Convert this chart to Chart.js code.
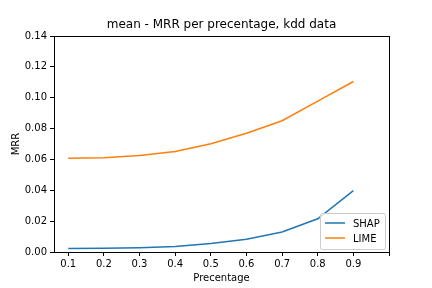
<!DOCTYPE html>
<html>
<head>
<meta charset="utf-8">
<script src="https://cdn.jsdelivr.net/npm/chart.js@4"></script>
<style>
  html, body { margin: 0; padding: 0; background: #fff; }
  #wrap { width: 432px; height: 288px; }
</style>
</head>
<body>
<div id="wrap"><canvas id="mrrChart" width="432" height="288"></canvas></div>
<script>
const percentages = [0.1, 0.2, 0.3, 0.4, 0.5, 0.6, 0.7, 0.8, 0.9];
const shapValues = [0.0022, 0.0024, 0.0028, 0.0036, 0.0055, 0.0083, 0.0130, 0.0215, 0.0398];
const limeValues = [0.0607, 0.0611, 0.0625, 0.0652, 0.0702, 0.0770, 0.0851, 0.0978, 0.1105];
const xTicks = [0.1, 0.2, 0.3, 0.4, 0.5, 0.6, 0.7, 0.8, 0.9, 1.0];
const xTickLabels = ['0.1', '0.2', '0.3', '0.4', '0.5', '0.6', '0.7', '0.8', '0.9', ''];
const seriesNames = ['SHAP', 'LIME'];
const seriesColors = ['#1f77b4', '#ff7f0e'];

const FONT = 'DejaVu Sans';

function toPoints(vals) {
    return percentages.map((p, i) => ({ x: p, y: vals[i] }));
}

// frame, title and in-plot legend, drawn the way matplotlib does it
const extrasPlugin = {
    id: 'extras',
    afterDraw(chart) {
        const ctx = chart.ctx;
        const a = chart.chartArea;
        ctx.save();
        ctx.strokeStyle = '#000';
        ctx.lineWidth = 1;
        ctx.strokeRect(Math.round(a.left) + 0.5, Math.round(a.top) + 0.5,
            Math.round(a.right - a.left), Math.round(a.bottom - a.top));

        ctx.fillStyle = '#000';
        ctx.font = '12px "' + FONT + '"';
        ctx.textAlign = 'center';
        ctx.textBaseline = 'bottom';
        ctx.fillText('mean - MRR per precentage, kdd data', (a.left + a.right) / 2, a.top - 5);

        // legend box, lower right
        const bw = 65, bh = 36;
        const bx = a.right - 4 - bw, by = a.bottom - 3 - bh;
        ctx.fillStyle = 'rgba(255,255,255,0.8)';
        ctx.strokeStyle = '#cccccc';
        ctx.beginPath();
        ctx.roundRect(bx + 0.5, by + 0.5, bw, bh, 2);
        ctx.fill();
        ctx.stroke();
        ctx.font = '10px "' + FONT + '"';
        ctx.textAlign = 'left';
        ctx.textBaseline = 'middle';
        seriesNames.forEach((name, i) => {
            const ly = by + 10 + i * 15;
            ctx.strokeStyle = seriesColors[i];
            ctx.lineWidth = 1.5;
            ctx.beginPath();
            ctx.moveTo(bx + 5, ly);
            ctx.lineTo(bx + 25, ly);
            ctx.stroke();
            ctx.fillStyle = '#000';
            ctx.fillText(name, bx + 33, ly + 1);
        });
        ctx.restore();
    }
};

new Chart(document.getElementById('mrrChart'), {
    type: 'line',
    data: {
        datasets: [
            {
                label: seriesNames[0],
                data: toPoints(shapValues),
                borderColor: seriesColors[0],
                backgroundColor: seriesColors[0],
                borderWidth: 1.5,
                pointRadius: 0,
                tension: 0,
                fill: false
            },
            {
                label: seriesNames[1],
                data: toPoints(limeValues),
                borderColor: seriesColors[1],
                backgroundColor: seriesColors[1],
                borderWidth: 1.5,
                pointRadius: 0,
                tension: 0,
                fill: false
            }
        ]
    },
    options: {
        responsive: false,
        animation: false,
        layout: { padding: { left: 0, right: 43, top: 36, bottom: 0 } },
        plugins: {
            legend: { display: false },
            title: { display: false },
            tooltip: { enabled: false }
        },
        scales: {
            x: {
                type: 'linear',
                min: 0.06,
                max: 1.0,
                afterFit(scale) { scale.height = 36; },
                afterBuildTicks(scale) {
                    scale.ticks = xTicks.map(v => ({ value: v }));
                },
                ticks: {
                    color: '#000',
                    font: { family: FONT, size: 10 },
                    padding: 2,
                    maxRotation: 0,
                    autoSkip: false,
                    callback: (v, i) => xTickLabels[i]
                },
                grid: {
                    drawOnChartArea: false,
                    drawTicks: true,
                    tickLength: 4,
                    color: '#000'
                },
                border: { display: true, color: '#000' },
                title: {
                    display: true,
                    text: 'Precentage',
                    color: '#000',
                    font: { family: FONT, size: 10 },
                    padding: { top: 0, bottom: 4 }
                }
            },
            y: {
                min: 0,
                max: 0.14,
                afterFit(scale) { scale.width = 54; },
                ticks: {
                    stepSize: 0.02,
                    color: '#000',
                    font: { family: FONT, size: 10 },
                    padding: 3,
                    callback: v => v.toFixed(2)
                },
                grid: {
                    drawOnChartArea: false,
                    drawTicks: true,
                    tickLength: 4,
                    color: '#000'
                },
                border: { display: true, color: '#000' },
                title: {
                    display: true,
                    text: 'MRR',
                    color: '#000',
                    font: { family: FONT, size: 10 },
                    padding: { top: 10, bottom: 2 }
                }
            }
        }
    },
    plugins: [extrasPlugin]
});
</script>
</body>
</html>
